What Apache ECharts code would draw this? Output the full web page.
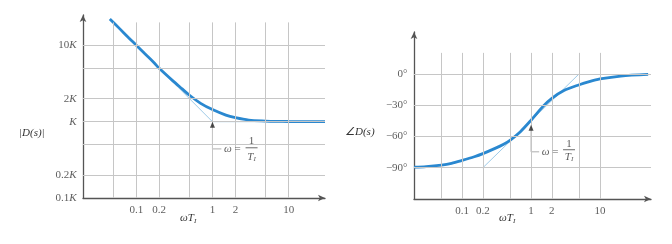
<!DOCTYPE html>
<html><head><meta charset="utf-8">
<script src="https://cdn.jsdelivr.net/npm/echarts@6/dist/echarts.min.js"></script>
<style>html,body{margin:0;padding:0;background:#fff}#c{width:672px;height:244px}</style>
</head><body><div id="c"></div>
<script>
// ---- grid / tick definitions ----
const gridX = [0.05, 0.1, 0.2, 0.5, 1, 2, 5, 10];
const magGridY = [0.2, 0.5, 1, 2, 5, 10];
const phGridY = [0, -30, -60, -90];
const xTickVals = [0.1, 0.2, 1, 2, 10];
const xTickText = ['0.1', '0.2', '1', '2', '10'];
const magTickVals = [10, 2, 1, 0.2, 0.1];
const magTickText = ['10', '2', '', '0.2', '0.1'];
const phTickVals = [0, -30, -60, -90];
const phTickText = ['0°', '−30°', '−60°', '−90°'];

// ---- magnitude curve |D(s)| / K vs ωT ----
const magX = [0.045, 0.06, 0.08, 0.1, 0.13, 0.17, 0.2, 0.3, 0.4, 0.5, 0.7, 1, 1.5, 2, 3, 5, 7, 10, 20, 30];
const magY = [22.2, 16.7, 12.5, 10.05, 7.76, 5.97, 5.0, 3.45, 2.69, 2.22, 1.74, 1.44, 1.22, 1.13, 1.05, 1.02, 1.01, 1.005, 1.0, 1.0];
const magAsymX = [0.1, 1, 30];
const magAsymY = [10, 1, 1];

// ---- phase curve ∠D(s) (deg) vs ωT ----
const phX = [0.02, 0.03, 0.05, 0.07, 0.1, 0.15, 0.2, 0.3, 0.4, 0.5, 0.7, 1, 1.5, 2, 3, 5, 7, 10, 20, 50];
const phY = [-89.5, -89.0, -87.5, -85.8, -83.0, -79.5, -76.5, -71.5, -67.5, -63.5, -55.5, -44.5, -31.0, -23.5, -16.0, -10.5, -7.5, -5.0, -2.2, -0.6];
const phAsymX = [0.2, 5];
const phAsymY = [-90, 0];

// ---- callout annotations (data units) ----
const magArrow = [1, 0.913];
const magCallout = [[1, 0.86], [1, 0.44], [1.31, 0.44]];
const magFracBar = [[2.72, 0.455], [3.91, 0.455]];
const magOmega = [1.83, 0.44];
const magNum = [3.26, 0.562];
const magDen = [3.26, 0.346];

const phArrow = [1, -51.8];
const phCallout = [[1, -53.7], [1, -74.8], [1.31, -74.8]];
const phFracBar = [[2.91, -72.8], [4.34, -72.8]];
const phOmega = [1.89, -74.8];
const phNum = [3.55, -67.1];
const phDen = [3.55, -79.6];

const F = 'Liberation Serif';
const BLUE = '#2a88d0';
const LIGHT = '#9fcbe8';
const GRID = '#c6c6c6';
const AX = '#555';
const TXT = '#333';

const zip = (a, b) => a.map((v, i) => [v, b[i]]);

function gridLines(xi, xs, ys, yLo, yHi, xLo, xHi) {
  const data = [];
  xs.forEach(x => data.push([{ coord: [x, yLo] }, { coord: [x, yHi] }]));
  ys.forEach(y => data.push([{ coord: [xLo, y] }, { coord: [xHi, y] }]));
  return {
    type: 'line', xAxisIndex: xi, yAxisIndex: xi, data: [], z: 1, silent: true,
    markLine: { symbol: 'none', silent: true, animation: false, label: { show: false },
      lineStyle: { color: GRID, width: 1, type: 'solid' }, data }
  };
}
const rich = {
  n: { fontFamily: F, fontSize: 11, color: TXT },
  i: { fontFamily: F, fontSize: 11, fontStyle: 'italic', color: TXT },
  s: { fontFamily: F, fontSize: 7, fontStyle: 'italic', color: TXT, padding: [5, 0, 0, 0] }
};
function labels(xi, pts, texts, pos, dist) {
  return {
    type: 'scatter', xAxisIndex: xi, yAxisIndex: xi, symbolSize: 1, clip: false, z: 5, silent: true,
    itemStyle: { color: 'transparent' },
    data: pts.map((p, i) => ({ value: p, label: { show: true, position: pos, distance: dist,
      fontFamily: F, fontSize: 11, color: TXT, formatter: texts[i], rich } }))
  };
}
function line(xi, data, color, width, z) {
  return { type: 'line', xAxisIndex: xi, yAxisIndex: xi, data, symbol: 'none', z, silent: true, clip: false,
    lineStyle: { color, width }, animation: false };
}
function arrow(xi, p) {
  return { type: 'scatter', xAxisIndex: xi, yAxisIndex: xi, data: [p], symbol: 'triangle', symbolSize: [5, 6],
    itemStyle: { color: '#222' }, z: 6, silent: true };
}
function axisLine() {
  return { show: true, onZero: false, symbol: ['none', 'arrow'], symbolSize: [5, 7], lineStyle: { color: AX, width: 1.3 } };
}
const hidden = { axisTick: { show: false }, axisLabel: { show: false }, splitLine: { show: false }, minorTick: { show: false }, minorSplitLine: { show: false } };
const titleRich = {
  a: { font: 'italic 11px "Liberation Serif"', fill: TXT },
  b: { font: 'italic 7px "Liberation Serif"', fill: TXT, padding: [5, 0, 0, 0] }
};

const chart = echarts.init(document.getElementById('c'), null, { renderer: 'canvas' });
chart.setOption({
  animation: false,
  backgroundColor: '#fff',
  textStyle: { fontFamily: F },
  grid: [
    { left: 83, top: 15, width: 242, height: 183 },
    { left: 414, top: 32, width: 237, height: 167 }
  ],
  xAxis: [
    Object.assign({ type: 'log', logBase: 10, gridIndex: 0, min: 0.02, max: 30, axisLine: axisLine() }, hidden),
    Object.assign({ type: 'log', logBase: 10, gridIndex: 1, min: 0.02, max: 55, axisLine: axisLine() }, hidden)
  ],
  yAxis: [
    Object.assign({ type: 'log', logBase: 10, gridIndex: 0, min: 0.1, max: 25, axisLine: axisLine() }, hidden),
    Object.assign({ type: 'value', gridIndex: 1, min: -120, max: 40, interval: 40, axisLine: axisLine() }, hidden)
  ],
  graphic: [
    { type: 'text', left: 19, top: 128, style: { text: '|D(s)|', font: 'italic 11px "Liberation Serif"', fill: TXT } },
    { type: 'text', left: 345, top: 127, style: { text: '∠D(s)', font: 'italic 11px "Liberation Serif"', fill: TXT } },
    { type: 'text', left: 180, top: 213, style: { text: '{a|ωT}{b|I}', rich: titleRich } },
    { type: 'text', left: 499, top: 213, style: { text: '{a|ωT}{b|I}', rich: titleRich } }
  ],
  series: [
    // left panel
    gridLines(0, gridX, magGridY, 0.1, 20, 0.02, 30),
    line(0, zip(magAsymX, magAsymY), LIGHT, 1, 2),
    Object.assign(line(0, zip(magX, magY), BLUE, 2.8, 3), { smooth: 0.3 }),
    labels(0, xTickVals.map(v => [v, 0.1]), xTickText.map(t => '{n|' + t + '}'), 'bottom', 6),
    labels(0, magTickVals.map(v => [0.02, v]), magTickText.map(t => '{n|' + t + '}{i|K}'), 'left', 6),
    line(0, magCallout, '#999', 0.8, 4),
    arrow(0, magArrow),
    line(0, magFracBar, '#444', 0.8, 4),
    labels(0, [magOmega, magNum, magDen], ['{i|ω} {n|=}', '{n|1}', '{i|T}{s|I}'], 'inside', 0),
    // right panel
    gridLines(1, gridX, phGridY, -120, 20, 0.02, 55),
    line(1, zip(phAsymX, phAsymY), LIGHT, 1, 2),
    Object.assign(line(1, zip(phX, phY), BLUE, 2.8, 3), { smooth: 0.3 }),
    labels(1, xTickVals.map(v => [v, -120]), xTickText.map(t => '{n|' + t + '}'), 'bottom', 6),
    labels(1, phTickVals.map(v => [0.02, v]), phTickText.map(t => '{n|' + t + '}'), 'left', 6),
    line(1, phCallout, '#999', 0.8, 4),
    arrow(1, phArrow),
    line(1, phFracBar, '#444', 0.8, 4),
    labels(1, [phOmega, phNum, phDen], ['{i|ω} {n|=}', '{n|1}', '{i|T}{s|I}'], 'inside', 0)
  ]
});
</script></body></html>
